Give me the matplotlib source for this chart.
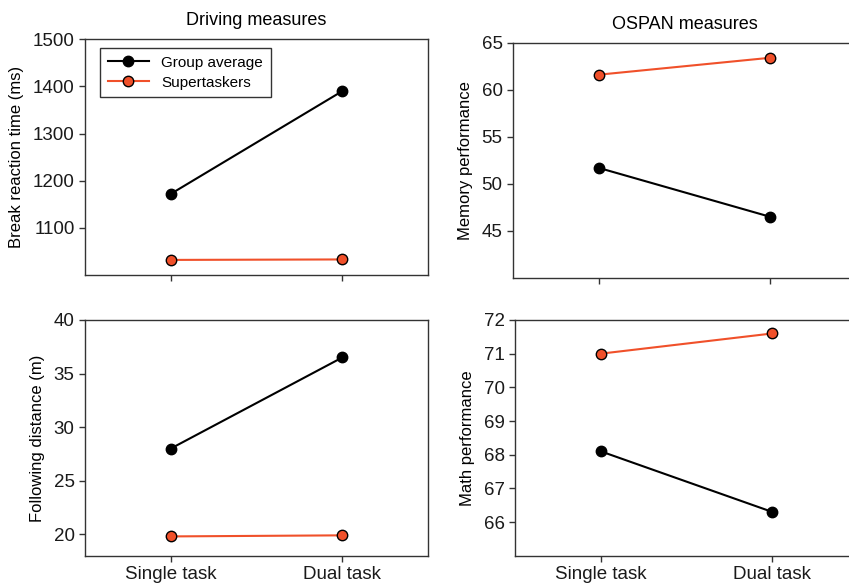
import matplotlib.pyplot as plt

plt.rcParams.update({'font.family': ['Liberation Sans', 'DejaVu Sans'],
                     'font.size': 13,
                     'axes.linewidth': 1.0,
                     'axes.edgecolor': '#333333',
                     'xtick.color': '#333333',
                     'ytick.color': '#333333',
                     'xtick.labelcolor': '#1a1a1a',
                     'ytick.labelcolor': '#1a1a1a',
                     })

conditions = ['Single task', 'Dual task']
series_names = ['Group average', 'Supertaskers']
series_colors = ['black', '#F0502A']

brake_rt = [[1172, 1390], [1032, 1033]]
memory = [[51.7, 46.5], [61.6, 63.4]]
follow_dist = [[28.0, 36.5], [19.8, 19.9]]
math_perf = [[68.1, 66.3], [71.0, 71.6]]

W, H = 849, 587
fig = plt.figure(figsize=(W / 100, H / 100), dpi=100)


def make_ax(left, top, right, bottom):
    return fig.add_axes([left / W, 1 - bottom / H, (right - left) / W, (bottom - top) / H])


ax_tl = make_ax(85, 39.3, 428, 275)
ax_tr = make_ax(513, 42.7, 856, 278)
ax_bl = make_ax(85, 320, 428, 555.7)
ax_br = make_ax(515, 320, 858, 555.7)

panels = [
    (ax_tl, brake_rt, 'Break reaction time (ms)', (1000, 1500), [1100, 1200, 1300, 1400, 1500]),
    (ax_tr, memory, 'Memory performance', (40, 65), [45, 50, 55, 60, 65]),
    (ax_bl, follow_dist, 'Following distance (m)', (18, 40), [20, 25, 30, 35, 40]),
    (ax_br, math_perf, 'Math performance', (65, 72), [66, 67, 68, 69, 70, 71, 72]),
]

x = [0, 1]
for ax, data, ylabel, ylim, yticks in panels:
    for vals, name, col in zip(data, series_names, series_colors):
        ax.plot(x, vals, color=col, lw=1.5, marker='o', ms=7.5,
                markerfacecolor=col, markeredgecolor='black', markeredgewidth=1.0,
                label=name, zorder=3)
    ax.set_xlim(-0.5, 1.5)
    ax.set_ylim(*ylim)
    ax.set_yticks(yticks)
    ax.set_xticks(x)
    ax.set_ylabel(ylabel, fontsize=12, labelpad=6)
    ax.tick_params(axis='both', labelsize=13.5, length=4, width=1)

for ax in (ax_tl, ax_tr):
    ax.set_xticklabels([])
for ax in (ax_bl, ax_br):
    ax.set_xticklabels(conditions)

ax_tl.set_title('Driving measures', fontsize=13, pad=10)
ax_tr.set_title('OSPAN measures', fontsize=13, pad=10)

leg = ax_tl.legend(loc='upper left', bbox_to_anchor=(0.044, 0.963), borderaxespad=0,
                   fontsize=11, frameon=True, fancybox=False, edgecolor='black',
                   handlelength=2.7, borderpad=0.5, labelspacing=0.4)
leg.get_frame().set_linewidth(1.0)

fig.savefig('out.png', dpi=100)
